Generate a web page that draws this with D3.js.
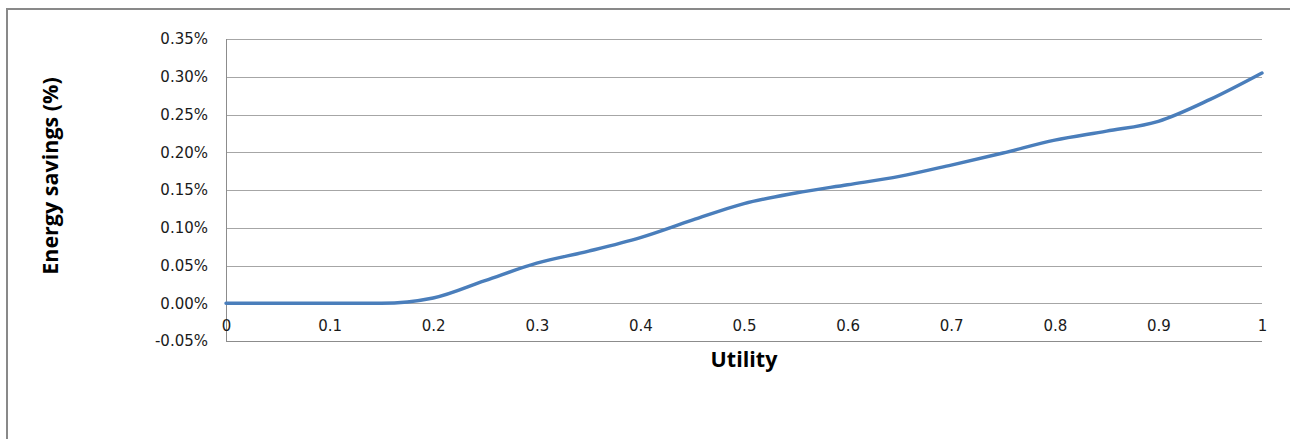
<!DOCTYPE html>
<html><head><meta charset="utf-8">
<script src="https://cdn.jsdelivr.net/npm/d3@7"></script>
<style>html,body{margin:0;padding:0;background:#fff;overflow:hidden}</style>
</head><body>
<svg id="c" width="1290" height="439"></svg>
<script>
const utility = [0,0.05,0.1,0.15,0.2,0.25,0.3,0.35,0.4,0.45,0.5,0.55,0.6,0.65,0.7,0.75,0.8,0.85,0.9,0.95,1.0];
const savings = [0,0,0,0,0.007,0.030,0.053,0.069,0.087,0.110,0.132,0.146,0.157,0.168,0.183,0.199,0.216,0.228,0.241,0.270,0.305];
const yTicks = [-0.05,0,0.05,0.10,0.15,0.20,0.25,0.30,0.35];
const xTicks = [0,0.1,0.2,0.3,0.4,0.5,0.6,0.7,0.8,0.9,1];
const xTitle = "Utility", yTitle = "Energy savings (%)";

(function(){
const svg = d3.select("#c");
const pL = 226, pR = 1262, pT = 39, pB = 341;
const x = d3.scaleLinear().domain([0,1]).range([pL,pR]);
const y = d3.scaleLinear().domain([-0.05,0.35]).range([pB,pT]);
const tickFont = "'DejaVu Sans', Verdana, sans-serif";
const titleFont = "'Open Sans', Lato, sans-serif";

// outer frame
svg.append("rect").attr("x",7).attr("y",9).attr("width",1300).attr("height",450)
  .attr("fill","none").attr("stroke","#898989").attr("stroke-width",2);

// gridlines
svg.append("g").selectAll("line").data(yTicks.filter(d=>d>-0.05)).join("line")
  .attr("x1",pL).attr("x2",pR)
  .attr("y1",d=>Math.round(y(d))+0.5).attr("y2",d=>Math.round(y(d))+0.5)
  .attr("stroke","#a6a6a6").attr("stroke-width",1);

// bottom line and left axis line
svg.append("line").attr("x1",pL).attr("x2",pR).attr("y1",Math.round(y(-0.05))+0.5).attr("y2",Math.round(y(-0.05))+0.5)
  .attr("stroke","#8c8c8c");
svg.append("line").attr("x1",pL+0.5).attr("x2",pL+0.5).attr("y1",pT).attr("y2",pB)
  .attr("stroke","#8c8c8c");

// y tick labels
const yAxis = d3.axisLeft(y).tickValues(yTicks).tickSize(0).tickPadding(18)
  .tickFormat(d=>d3.format(".2f")(d).replace("\u2212","-")+"%");
const ga = svg.append("g").attr("transform",`translate(${pL},0)`).call(yAxis);
ga.select(".domain").remove();
ga.selectAll("text").attr("font-family",tickFont).attr("font-size",15).attr("fill","#1a1a1a");

// x tick labels, axis crossing at 0
const xAxis = d3.axisBottom(x).tickValues(xTicks).tickSize(0).tickPadding(17)
  .tickFormat(d=>d===0?"0":d===1?"1":d3.format(".1f")(d));
const gx = svg.append("g").attr("transform",`translate(0,${y(0)})`).call(xAxis);
gx.select(".domain").remove();
gx.selectAll("text").attr("font-family",tickFont).attr("font-size",15).attr("fill","#1a1a1a");

// line
const line = d3.line().x((d,i)=>x(utility[i])).y(d=>y(d)).curve(d3.curveMonotoneX);
svg.append("path").datum(savings).attr("d",line).attr("fill","none")
  .attr("stroke","#4a7ebb").attr("stroke-width",3.4).attr("stroke-linecap","round");

// titles
svg.append("text").attr("x",744).attr("y",367).attr("text-anchor","middle")
  .attr("font-family",titleFont).attr("font-weight","bold").attr("font-size",21.5)
  .attr("fill","#000").text(xTitle);
svg.append("text").attr("transform","translate(58,176) rotate(-90)").attr("text-anchor","middle")
  .attr("font-family",titleFont).attr("font-weight","bold").attr("font-size",21.5)
  .attr("fill","#000").text(yTitle);
})();
</script>
</body></html>
